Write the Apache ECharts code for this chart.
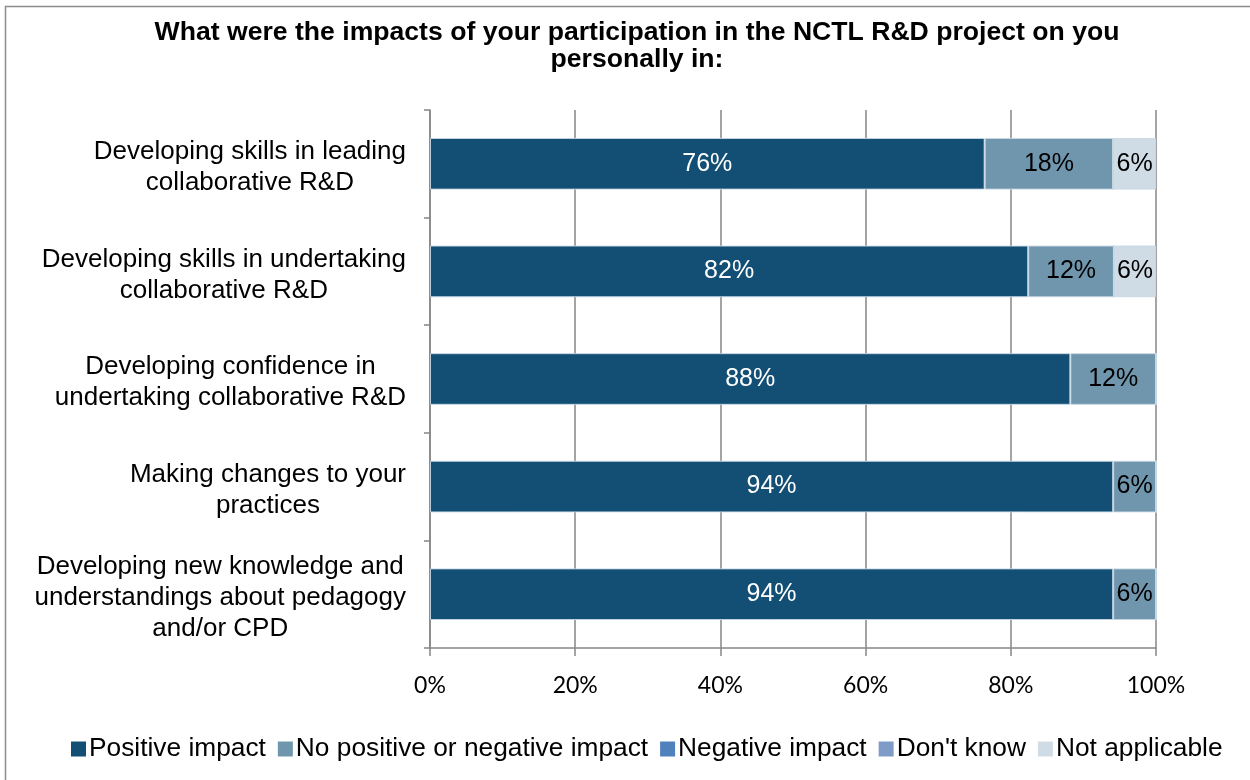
<!DOCTYPE html>
<html>
<head>
<meta charset="utf-8">
<script src="https://cdn.jsdelivr.net/npm/echarts@6/dist/echarts.min.js"></script>
<style>html,body{margin:0;padding:0;background:#fff}#c{width:1250px;height:780px}</style>
</head>
<body>
<div id="c"></div>
<script>
const categories = [
  "Developing skills in leading\ncollaborative R&D",
  "Developing skills in undertaking\ncollaborative R&D",
  "Developing confidence in\nundertaking collaborative R&D",
  "Making changes to your\npractices",
  "Developing new knowledge and\nunderstandings about pedagogy\nand/or CPD"
];
const seriesNames = ["Positive impact", "No positive or negative impact", "Negative impact", "Don't know", "Not applicable"];
const positiveImpact = [76.4, 82.4, 88.2, 94.1, 94.1];
const noImpact = [17.7, 11.8, 11.8, 5.9, 5.9];
const negativeImpact = [0, 0, 0, 0, 0];
const dontKnow = [0, 0, 0, 0, 0];
const notApplicable = [5.9, 5.8, 0, 0, 0];
const xTicks = [0, 20, 40, 60, 80, 100];

const colors = ['#134F74', '#7096AE', '#4F81BD', '#7F9CC9', '#D0DCE5'];
const labelColors = ['#ffffff', '#000000', '#000000', '#000000', '#000000'];
const allData = [positiveImpact, noImpact, negativeImpact, dontKnow, notApplicable];

const chart = echarts.init(document.getElementById('c'));
const series = seriesNames.map((name, i) => ({
  name: name,
  type: 'bar',
  stack: 'total',
  barWidth: '48%',
  data: allData[i],
  itemStyle: { color: colors[i], borderColor: 'rgba(200,215,228,0.9)', borderWidth: 1 },
  label: {
    show: true,
    position: 'inside',
    color: labelColors[i],
    fontFamily: 'Liberation Sans',
    fontSize: 25,
    formatter: p => p.value > 0 ? Math.round(p.value) + '%' : ''
  },
  emphasis: { disabled: true }
}));

chart.setOption({
  animation: false,
  color: colors,
  title: {
    text: 'What were the impacts of your participation in the NCTL R&D project on you\npersonally in:',
    left: 632,
    textAlign: 'center',
    top: 14,
    textStyle: { fontFamily: 'Liberation Sans', fontWeight: 'bold', fontSize: 26.6, lineHeight: 27, color: '#000' }
  },
  legend: {
    bottom: 13,
    left: 66,
    icon: 'rect',
    itemWidth: 15,
    itemHeight: 15,
    itemGap: 12,
    itemStyle: { borderWidth: 0 },
    textStyle: { fontFamily: 'Liberation Sans', fontSize: 26.3, color: '#000', padding: [0, 0, 0, -2] },
    data: seriesNames
  },
  grid: { left: 430, right: 94, top: 110, bottom: 132, containLabel: false, outerBoundsMode: 'none' },
  xAxis: {
    type: 'value',
    min: 0,
    max: 100,
    interval: 20,
    axisLine: { show: true, lineStyle: { color: '#868686', width: 1.5 } },
    axisTick: { show: true, length: 8, lineStyle: { color: '#868686', width: 1.5 } },
    splitLine: { show: true, lineStyle: { color: '#868686', width: 1.5 } },
    axisLabel: {
      margin: 26,
      fontFamily: 'Lato',
      fontSize: 23,
      color: '#000',
      formatter: v => xTicks.includes(v) ? v + '%' : ''
    }
  },
  yAxis: {
    type: 'category',
    inverse: true,
    data: categories,
    axisLine: { show: true, lineStyle: { color: '#868686', width: 1.5 } },
    axisTick: { show: true, length: 6, lineStyle: { color: '#868686', width: 1.5 } },
    axisLabel: {
      margin: 24,
      interval: 0,
      padding: [7, 0, 0, 0],
      formatter: v => v.split('\n').map(s => '{c|' + s + '}').join('\n'),
      rich: { c: { align: 'center', fontFamily: 'Liberation Sans', fontSize: 26, lineHeight: 31, color: '#000' } }
    }
  },
  graphic: [{
    type: 'rect',
    shape: { x: 5.5, y: 6.5, width: 1300, height: 900 },
    style: { fill: 'none', stroke: '#8c8c8c', lineWidth: 1.5 },
    silent: true
  }],
  series: series
});
</script>
</body>
</html>
